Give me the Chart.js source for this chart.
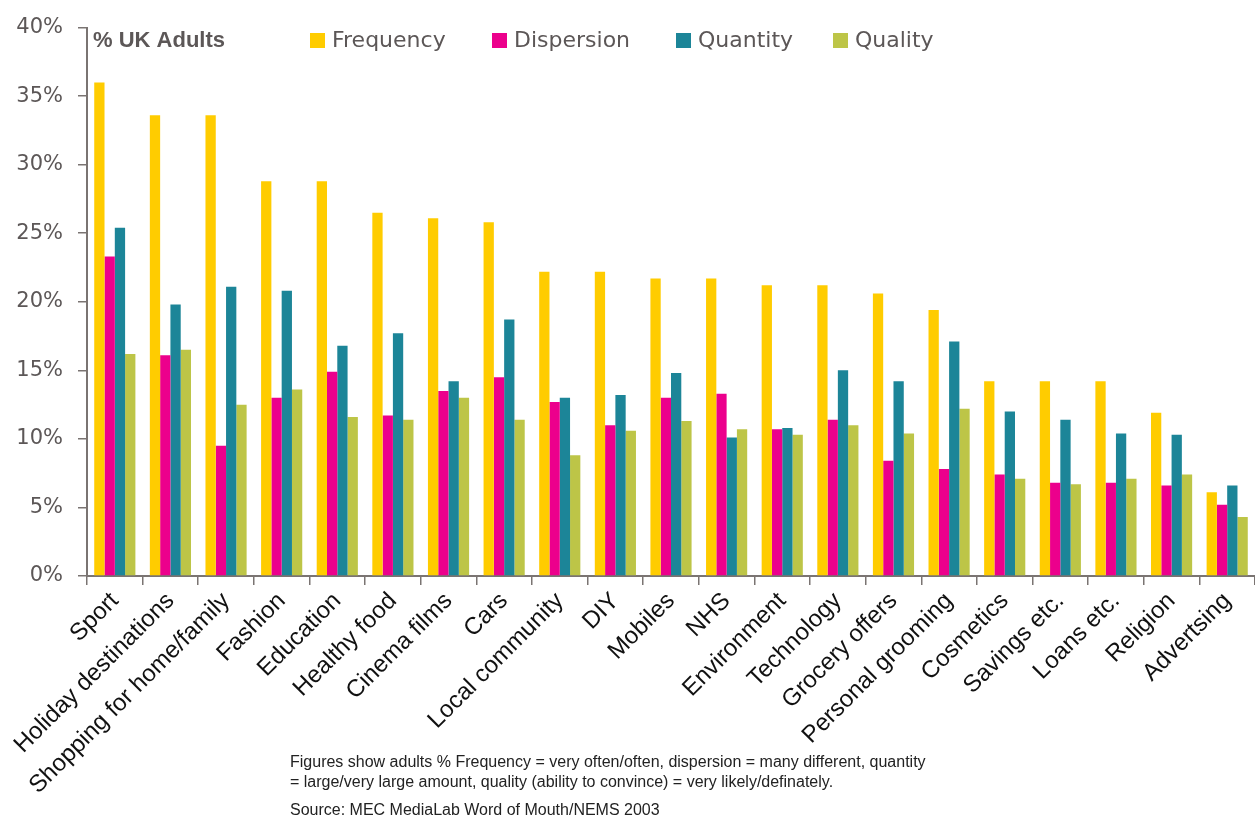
<!DOCTYPE html>
<html>
<head>
<meta charset="utf-8">
<script src="https://cdn.jsdelivr.net/npm/chart.js@4/dist/chart.umd.min.js"></script>
<style>
  html, body { margin: 0; padding: 0; background: #fff; }
  #wrap { width: 1255px; height: 819px; }
</style>
</head>
<body>
<div id="wrap"><canvas id="wom" width="1255" height="819"></canvas></div>
<script>
// ----- Data -----
const categories = [
  "Sport", "Holiday destinations", "Shopping for home/family", "Fashion", "Education",
  "Healthy food", "Cinema films", "Cars", "Local community", "DIY", "Mobiles", "NHS",
  "Environment", "Technology", "Grocery offers", "Personal grooming", "Cosmetics",
  "Savings etc.", "Loans etc.", "Religion", "Advertsing"
];
const frequency  = [36.0, 33.6, 33.6, 28.8, 28.8, 26.5, 26.1, 25.8, 22.2, 22.2, 21.7, 21.7, 21.2, 21.2, 20.6, 19.4, 14.2, 14.2, 14.2, 11.9, 6.1];
const dispersion = [23.3, 16.1, 9.5, 13.0, 14.9, 11.7, 13.5, 14.5, 12.7, 11.0, 13.0, 13.3, 10.7, 11.4, 8.4, 7.8, 7.4, 6.8, 6.8, 6.6, 5.2];
const quantity   = [25.4, 19.8, 21.1, 20.8, 16.8, 17.7, 14.2, 18.7, 13.0, 13.2, 14.8, 10.1, 10.8, 15.0, 14.2, 17.1, 12.0, 11.4, 10.4, 10.3, 6.6];
const quality    = [16.2, 16.5, 12.5, 13.6, 11.6, 11.4, 13.0, 11.4, 8.8, 10.6, 11.3, 10.7, 10.3, 11.0, 10.4, 12.2, 7.1, 6.7, 7.1, 7.4, 4.3];
const yTicks = [0, 5, 10, 15, 20, 25, 30, 35, 40];

const noteLines = [
  "Figures show adults % Frequency = very often/often, dispersion = many different, quantity",
  "= large/very large amount, quality (ability to convince) = very likely/definately.",
  "Source: MEC MediaLab Word of Mouth/NEMS 2003"
];

const AXIS = "#7a7472";
const GREY_TEXT = "#5c5757";

// Legend + title + footnote drawn on top of the chart
const overlay = {
  id: "overlay",
  afterDraw(chart) {
    const { ctx } = chart;
    ctx.save();

    // "% UK Adults"
    ctx.fillStyle = GREY_TEXT;
    ctx.font = "bold 22px 'Liberation Sans', Arial, sans-serif";
    ctx.textBaseline = "middle";
    ctx.textAlign = "left";
    ctx.fillText("% UK Adults", 93, 41);

    // legend items
    const legendX = [310, 492, 676, 833];
    ctx.font = "22px 'DejaVu Sans', sans-serif";
    chart.data.datasets.forEach((ds, i) => {
      const x = legendX[i];
      ctx.fillStyle = ds.backgroundColor;
      ctx.fillRect(x, 33, 15, 15);
      ctx.fillStyle = GREY_TEXT;
      ctx.fillText(ds.label, x + 22, 41);
    });

    // footnote
    ctx.fillStyle = "#222";
    ctx.font = "16px 'Liberation Sans', Arial, sans-serif";
    ctx.fillText(noteLines[0], 290, 763);
    ctx.fillText(noteLines[1], 290, 783);
    ctx.fillText(noteLines[2], 290, 811);

    ctx.restore();
  }
};

document.addEventListener("DOMContentLoaded", () => {
  const ctx = document.getElementById("wom").getContext("2d");

  new Chart(ctx, {
    type: "bar",
    data: {
      labels: categories,
      datasets: [
        { label: "Frequency",  data: frequency,  backgroundColor: "#ffcc00" },
        { label: "Dispersion", data: dispersion, backgroundColor: "#ec008c" },
        { label: "Quantity",   data: quantity,   backgroundColor: "#1c8598" },
        { label: "Quality",    data: quality,    backgroundColor: "#bdc547" }
      ]
    },
    options: {
      responsive: false,
      animation: false,
      devicePixelRatio: 1,
      layout: { padding: { top: 24, right: 0, bottom: 0, left: 0 } },
      datasets: { bar: { categoryPercentage: 0.74, barPercentage: 1.0 } },
      plugins: {
        legend: { display: false },
        tooltip: { enabled: false }
      },
      scales: {
        x: {
          grid: {
            offset: true,
            drawOnChartArea: false,
            tickLength: 9,
            color: AXIS,
            lineWidth: 1.5
          },
          border: { display: true, color: AXIS, width: 2 },
          ticks: {
            autoSkip: false,
            minRotation: 45,
            maxRotation: 45,
            padding: 2,
            color: "#111",
            font: { family: "'Liberation Sans', Arial, sans-serif", size: 24 }
          },
          afterFit(scale) { scale.height = 243; }
        },
        y: {
          min: 0,
          max: 40,
          afterBuildTicks(scale) { scale.ticks = yTicks.map(v => ({ value: v })); },
          grid: {
            drawOnChartArea: false,
            tickLength: 9,
            color: AXIS,
            lineWidth: 1.5
          },
          border: { display: true, color: AXIS, width: 2 },
          ticks: {
            padding: 15,
            color: GREY_TEXT,
            font: { family: "'DejaVu Sans', sans-serif", size: 21 },
            callback: v => v + "%"
          },
          afterFit(scale) { scale.width = 87; }
        }
      }
    },
    plugins: [overlay]
  });
});
</script>
</body>
</html>
